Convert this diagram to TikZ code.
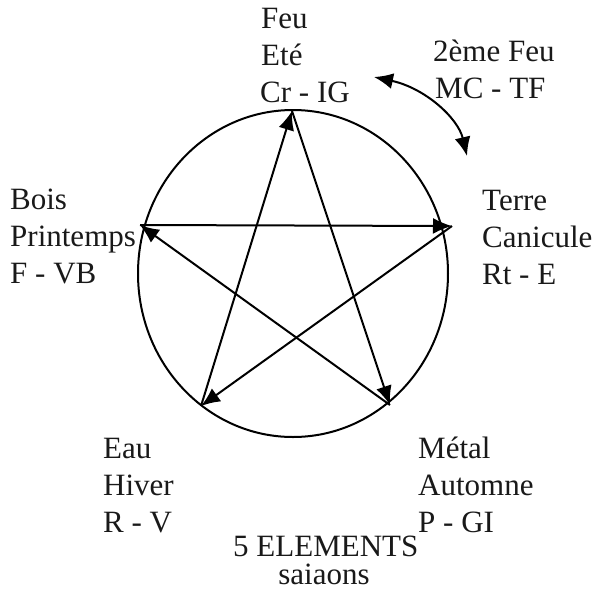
\documentclass[tikz,border=0pt]{standalone}
\usepackage{fontspec}
\setmainfont{Liberation Serif}
\usetikzlibrary{arrows.meta}
\begin{document}
\begin{tikzpicture}[x=1pt,y=-1pt,
  lbl/.style={anchor=base west,inner sep=0pt,text=black!90,font=\fontsize{31}{37}\selectfont},
  lblc/.style={anchor=base,inner sep=0pt,text=black!90,font=\fontsize{31}{37}\selectfont},
  edge/.style={line width=2pt,-{Latex[length=19pt,width=16pt]}},
  dbl/.style={line width=2pt,{Latex[length=19pt,width=16pt]}-{Latex[length=19pt,width=16pt]}}]
\useasboundingbox (0,0) rectangle (594,598);
\draw[line width=2pt] (293,273.5) ellipse [x radius=155, y radius=163.5];
\coordinate (T) at (292,111);
\coordinate (L) at (140,225);
\coordinate (R) at (452,226);
\coordinate (BL) at (201,406);
\coordinate (BR) at (390,405);
\draw[edge] (L) -- (R);
\draw[edge] (BR) -- (L);
\draw[edge] (T) -- (BR);
\draw[edge] (BL) -- (T);
\draw[edge] (R) -- (BL);
\coordinate (a1) at (374,77);
\coordinate (a2) at (467,156);
\draw[dbl] (a1) .. controls (425,88) and (458,118) .. (a2);
% labels
\node[lbl] (f1) at (261,28) {Feu};
\node[lbl] (f2) at (261,65) {Eté};
\node[lbl] (f3) at (260,102) {Cr - IG};
\node[lbl] (s1) at (433,61) {2ème Feu};
\node[lbl] (s2) at (435,98) {MC - TF};
\node[lbl] (b1) at (10,209) {Bois};
\node[lbl] (b2) at (10,246) {Printemps};
\node[lbl] (b3) at (10,283) {F - VB};
\node[lbl] (t1) at (482,210) {Terre};
\node[lbl] (t2) at (482,247) {Canicule};
\node[lbl] (t3) at (482,284) {Rt - E};
\node[lbl] (e1) at (103,458) {Eau};
\node[lbl] (e2) at (103,495) {Hiver};
\node[lbl] (e3) at (103,532) {R - V};
\node[lbl] (m1) at (418,458) {Métal};
\node[lbl] (m2) at (418,495) {Automne};
\node[lbl] (m3) at (418,532) {P - GI};
\node[lbl] (c1) at (233,556) {5 ELEMENTS};
\node[lblc] (c2) at (324,584) {saiaons};
\end{tikzpicture}
\end{document}
